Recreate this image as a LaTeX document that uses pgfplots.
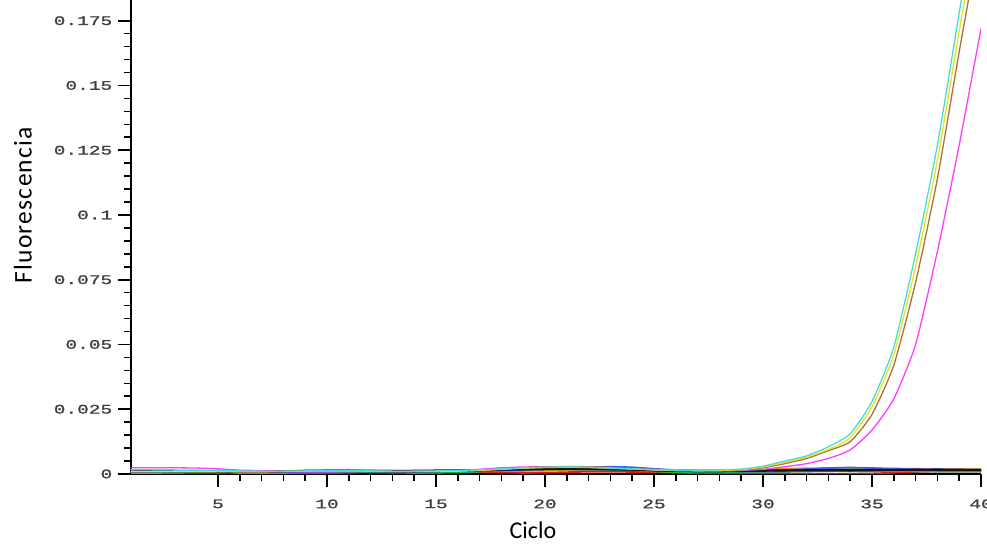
\documentclass[border=0pt]{standalone}
\usepackage{fontspec}
\setmainfont{Carlito}
\newfontfamily\monofont[FakeStretch=1.5, FakeBold=1.5]{Liberation Mono}
\newfontfamily\widefont[LetterSpace=5]{Carlito}
\usepackage{pgfplots}
\pgfplotsset{compat=1.18}
\usepackage{pgfplotstable}

\definecolor{cK}{RGB}{20,20,20}
\definecolor{cB}{RGB}{10,20,150}
\definecolor{cG}{RGB}{30,200,30}
\definecolor{cDG}{RGB}{0,110,70}
\definecolor{cR}{RGB}{235,20,20}
\definecolor{cO}{RGB}{240,150,10}
\definecolor{cT}{RGB}{0,170,160}
\definecolor{cGy}{RGB}{130,130,130}
\definecolor{cPu}{RGB}{70,90,240}
\definecolor{cOl}{RGB}{200,160,0}
\definecolor{cCy}{RGB}{70,220,215}
\definecolor{cYe}{RGB}{235,225,30}
\definecolor{cBr}{RGB}{165,115,60}
\definecolor{cMg}{RGB}{255,60,255}

% fluorescence in units of 0.001, one column per well
\pgfplotstableread{
c  k   b   g   dg  r   o   t   gy  pu  ol  cy   ye   br   mg
1  1.1 1.5 0.5 0.7 0.8 0.6 1.3 1.2 0.9 0.4 1.6  1.0  0.9  2.4
2  1.1 1.4 0.6 0.7 0.7 0.7 1.2 1.2 0.9 0.4 1.6  1.0  0.9  2.4
3  1.0 1.3 0.7 0.8 0.6 0.8 1.1 1.1 1.0 0.5 1.5  1.0  0.9  2.4
4  1.0 1.2 0.8 0.8 0.6 0.9 1.0 1.0 1.2 0.6 1.4  1.0  0.9  2.3
5  1.0 1.0 0.9 0.7 0.6 0.8 0.9 1.0 1.3 0.6 1.3  1.0  0.9  2.0
6  0.9 0.8 0.5 0.6 0.5 0.7 0.6 1.0 1.1 0.7 1.2  0.9  0.8  1.5
7  1.0 0.8 0.3 0.6 0.5 0.8 0.5 1.0 0.9 0.8 1.1  0.9  0.8  1.3
8  1.1 0.9 0.4 0.7 0.3 1.0 0.6 1.0 0.8 1.0 1.1  1.0  0.9  1.0
9  1.2 1.0 0.6 0.8 0.2 1.3 0.9 1.0 0.8 1.4 1.2  1.1  1.0  0.8
10 1.3 1.0 0.8 0.9 0.3 1.5 1.4 1.1 0.9 1.5 1.3  1.2  1.1  0.8
11 1.3 1.1 0.9 1.0 0.5 1.5 1.6 1.1 1.0 1.3 1.3  1.2  1.1  0.9
12 1.2 1.0 0.8 1.0 0.6 1.4 1.3 1.1 1.1 1.0 1.2  1.1  1.0  1.0
13 1.2 0.9 0.6 0.9 0.6 1.3 0.9 1.0 1.1 0.8 1.1  1.0  1.0  1.0
14 1.3 0.9 0.5 0.8 0.5 1.2 0.7 1.0 1.0 0.7 1.1  1.0  1.0  1.0
15 1.4 1.0 0.6 0.8 0.5 1.2 0.6 1.1 1.0 0.7 1.2  1.0  1.0  1.1
16 1.4 1.1 0.8 0.9 0.6 1.3 0.7 1.1 1.1 0.8 1.3  1.1  1.1  1.3
17 1.5 1.3 1.2 1.1 0.8 1.5 1.0 1.2 1.3 1.0 1.6  1.4  1.4  1.8
18 1.7 1.5 1.8 1.4 0.6 1.8 1.5 1.3 1.6 1.2 2.0  1.8  1.9  2.4
19 1.9 1.7 2.3 1.6 0.4 2.2 2.0 1.4 1.9 1.2 2.4  2.2  2.4  2.7
20 2.0 1.8 2.5 1.8 0.5 2.5 2.3 1.5 2.2 1.3 2.6  2.5  2.7  2.8
21 2.0 1.9 2.6 1.9 0.7 2.7 2.4 1.5 2.4 1.6 2.7  2.6  2.9  2.8
22 1.9 2.0 2.4 1.9 0.9 2.6 2.3 1.4 2.6 2.2 2.6  2.5  2.8  2.7
23 1.8 2.0 2.0 1.7 0.9 2.4 2.1 1.3 2.8 2.4 2.3  2.2  2.5  2.4
24 1.6 1.7 1.6 1.5 0.8 2.0 1.6 1.2 2.6 2.0 2.0  1.9  2.1  2.0
25 1.4 1.3 1.0 1.2 0.7 1.6 1.1 1.1 2.0 1.5 1.7  1.6  1.7  1.6
26 1.3 1.1 0.8 1.0 0.5 1.3 0.9 1.0 1.5 1.2 1.5  1.4  1.4  1.3
27 1.3 1.0 0.8 0.9 0.3 1.2 0.8 1.0 1.2 1.1 1.5  1.3  1.3  1.2
28 1.3 1.0 0.9 0.9 0.1 1.2 0.8 0.9 1.1 1.1 1.6  1.4  1.3  1.2
29 1.4 1.1 1.0 1.0 0.0 1.4 0.9 0.8 1.2 1.2 1.9  1.7  1.5  1.4
30 1.4 1.2 1.1 1.1 0.0 1.7 1.0 0.7 1.4 1.4 3.0  2.7  2.4  1.8
31 1.4 1.3 1.3 1.1 0.0 2.0 1.1 0.8 1.6 1.6 5.0  4.5  4.0  2.8
32 1.5 1.4 1.5 1.2 0.0 2.2 1.2 0.9 1.9 1.7 7.0  6.5  6.0  4.0
33 1.5 1.4 1.7 1.3 0.0 2.3 1.2 1.0 2.3 1.8 10.5 9.5  9.0  6.0
34 1.5 1.3 1.8 1.3 0.1 2.3 1.1 1.1 2.5 1.8 15.5 14   12.5 9.3
35 1.6 1.4 1.6 1.2 0.2 2.2 1.1 1.1 2.3 1.8 28   26   23   17
36 1.6 1.6 1.4 1.2 0.5 2.1 1.1 1.2 2.0 1.8 49   46   42   29
37 1.6 1.7 1.2 1.3 0.8 2.0 1.0 1.2 1.8 1.8 85   80   74   50
38 1.5 1.8 1.1 1.3 1.0 1.9 1.0 1.1 1.7 1.8 127  121  114  86
39 1.5 1.7 1.1 1.2 1.0 1.8 1.0 1.1 1.6 1.8 178  171  163  127
40 1.5 1.6 1.2 1.2 1.0 1.8 1.0 1.1 1.6 1.8 230  220  210  172
}\qpcr

\begin{document}
\begin{tikzpicture}
\begin{axis}[
    scale only axis,
    width=850.2pt, height=474pt,
    xmin=1, xmax=40, ymin=0, ymax=0.183,
    axis x line=bottom, axis y line=left,
    axis line style={line width=2.5pt, -},
    xtick={5,10,15,20,25,30,35,40}, minor x tick num=4,
    ytick={0,0.025,0.05,0.075,0.1,0.125,0.15,0.175}, minor y tick num=4,
    tick align=outside,
    major tick length=13pt, minor tick length=7pt,
    every tick/.style={black, line width=1.6pt},
    /pgf/number format/assume math mode=true,
    yticklabel style={/pgf/number format/fixed, /pgf/number format/precision=3, xshift=-2pt},
    xticklabel style={yshift=-9pt},
    ticklabel style={font=\monofont\fontsize{13}{13}\selectfont, text=black!75},
    xlabel={Ciclo}, ylabel={Fluorescencia},
    xlabel style={font=\fontsize{24}{24}\selectfont, at={(axis description cs:0.473,0)}, anchor=center, yshift=-56pt},
    ylabel style={font=\widefont\fontsize{25.5}{25.5}\selectfont, at={(axis description cs:0,0.567)}, anchor=center, yshift=108pt},
    every axis plot/.append style={line width=1.8pt},
    y filter/.expression={y/1000},
]
\coordinate (bl) at (rel axis cs:0,0);
\coordinate (tr) at (rel axis cs:1,1);
\addplot[cGy] table[x=c, y=gy] {\qpcr};
\addplot[cR] table[x=c, y=r] {\qpcr};
\addplot[cOl] table[x=c, y=ol] {\qpcr};
\addplot[cDG] table[x=c, y=dg] {\qpcr};
\addplot[cT] table[x=c, y=t] {\qpcr};
\addplot[cO] table[x=c, y=o] {\qpcr};
\addplot[cG] table[x=c, y=g] {\qpcr};
\addplot[cPu] table[x=c, y=pu] {\qpcr};
\addplot[cB] table[x=c, y=b] {\qpcr};
\addplot[cK] table[x=c, y=k] {\qpcr};
\addplot[cMg, line width=1.3pt, smooth, tension=0.35] table[x=c, y=mg] {\qpcr};
\addplot[cBr, line width=1.3pt, smooth, tension=0.35] table[x=c, y=br] {\qpcr};
\addplot[cYe, line width=1.3pt, smooth, tension=0.35] table[x=c, y=ye] {\qpcr};
\addplot[cCy, line width=1.3pt, smooth, tension=0.35] table[x=c, y=cy] {\qpcr};
\end{axis}
\pgfresetboundingbox
\path ([shift={(-130.8pt,-71pt)}]bl) rectangle ([shift={(6pt,0pt)}]tr);
\end{tikzpicture}
\end{document}
